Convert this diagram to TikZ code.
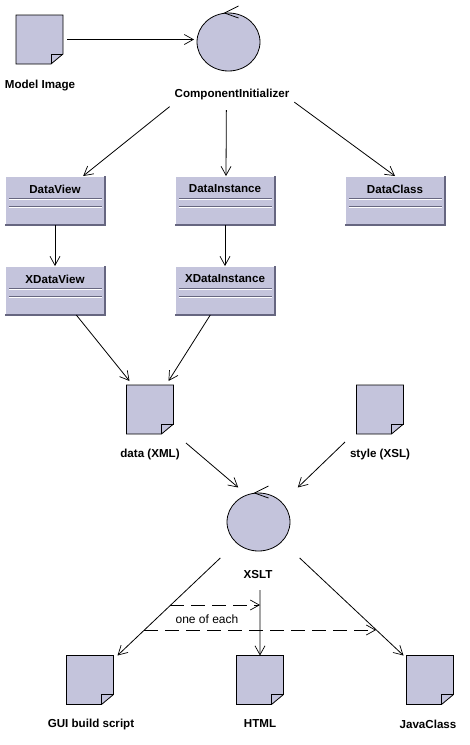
\documentclass[tikz,border=0pt]{standalone}
\usepackage{fontspec}
\setmainfont{Liberation Sans}
\usepackage{tikz}
\usetikzlibrary{arrows.meta,shapes.geometric}

\definecolor{umlfill}{RGB}{196,196,220}
\definecolor{umldark}{RGB}{102,102,128}

\newcommand{\docfile}[3]{
    \node [docbox] (#1) at (#2,#3) {};
    \filldraw [fill=umlfill] (#1.north west) -- (#1.north east) -- ([yshift=10pt]#1.south east)
        -- ([xshift=-12pt]#1.south east) -- (#1.south west) -- cycle;
    \draw ([xshift=-12pt]#1.south east) -- ([shift={(-12pt,10pt)}]#1.south east) -- ([yshift=10pt]#1.south east);
}
\newcommand{\classbox}[4]{
    \node [classframe] (#1) at (#2,#3) {};
    \draw [white] (#1.south west) -- (#1.north west) -- (#1.north east);
    \draw [umldark,line width=1.4pt] (#1.north east) -- (#1.south east) -- (#1.south west);
    \draw [umldark] ([shift={(4pt,-22pt)}]#1.north west) -- ([shift={(-3pt,-22pt)}]#1.north east);
    \draw [white] ([shift={(4pt,-23pt)}]#1.north west) -- ([shift={(-3pt,-23pt)}]#1.north east);
    \draw [umldark] ([shift={(4pt,-30pt)}]#1.north west) -- ([shift={(-3pt,-30pt)}]#1.north east);
    \draw [white] ([shift={(4pt,-31pt)}]#1.north west) -- ([shift={(-3pt,-31pt)}]#1.north east);
    \node [boldtext] (#1name) at ([yshift=-13pt]#1.north) {#4};
}
\newcommand{\control}[3]{
    \node [controlnode] (#1) at (#2,#3) {};
    \draw ([shift={(10pt,7pt)}]#1.north) -- ([xshift=-4pt]#1.north) -- ([shift={(10pt,-5pt)}]#1.north);
}

\begin{document}
\begin{tikzpicture}[x=1pt,y=-1pt,line width=0.8pt,>={Straight Barb[length=9pt,width=10pt,line width=0.7pt]},
        docbox/.style={minimum width=47pt,minimum height=49pt,inner sep=0pt,outer sep=0pt},
        classframe/.style={fill=umlfill,minimum width=100pt,minimum height=49pt,inner sep=0pt,outer sep=0pt},
        controlnode/.style={ellipse,draw,fill=umlfill,minimum width=63pt,minimum height=58pt,inner sep=0pt,outer sep=0pt},
        boldtext/.style={font=\fontsize{11.6pt}{14pt}\selectfont\bfseries,inner ysep=2pt,inner xsep=0pt},
        labeltext/.style={boldtext,minimum height=20pt,inner xsep=5pt,outer sep=0pt},
        dashline/.style={->,dash pattern=on 14pt off 7pt}]
    \useasboundingbox (0,0) rectangle (470,745);

    \docfile{model}{39.5}{39.5}
    \node [boldtext] (modeltext) at (40,85.5) {Model Image};
    \control{init}{228.5}{42}
    \node [labeltext,minimum width=122pt,minimum height=31pt] (inittext) at (232,94.5) {ComponentInitializer};

    \classbox{dv}{55}{200.5}{DataView}
    \classbox{di}{225}{200.5}{DataInstance}
    \classbox{dc}{395}{200.5}{DataClass}
    \classbox{xdv}{55}{290.5}{XDataView}
    \classbox{xdi}{225}{290.5}{XDataInstance}

    \docfile{data}{150}{409.5}
    \node [labeltext,minimum width=72pt,minimum height=22pt] (datatext) at (150,454) {data (XML)};
    \docfile{style}{380}{409.5}
    \node [labeltext,minimum width=70pt,minimum height=24pt] (styletext) at (380,454) {style (XSL)};

    \control{xslt}{258.5}{522}
    \node [labeltext,minimum width=84pt,minimum height=32pt] (xslttext) at (258,574) {XSLT};

    \docfile{gui}{90}{680}
    \node [boldtext] (guitext) at (91,724) {GUI build script};
    \docfile{html}{260}{680}
    \node [boldtext] (htmltext) at (260,724) {HTML};
    \docfile{jclass}{430}{680}
    \node [boldtext] (jclasstext) at (428,724) {JavaClass};

    \draw [->,shorten <=4pt,shorten >=3pt] (model.east) -- (model.east -| init.west);
    \draw [->] (inittext.191) -- (dv.41);
    \draw [->] (inittext.250) -- ([xshift=1pt]di.north);
    \draw [->] (inittext.353) -- (dc.north);
    \draw [->] (dv.south) -- (xdv.north);
    \draw [->] (di.south) -- (xdi.north);
    \draw [->] (xdv.311) -- ([shift={(3pt,4pt)}]data.north west);
    \draw [->] (xdi.239) -- ([shift={(-5pt,4pt)}]data.north east);
    \draw [->] (datatext.north east) -- ([shift={(2pt,14pt)}]xslt.north west);
    \draw [->] (styletext.north west) -- ([shift={(17pt,14pt)}]xslt.north east);
    \draw [->] (xslttext.157) -- ([xshift=4pt]gui.north east);
    \draw [->] (xslttext.277) -- (html.north);
    \draw [->] (xslttext.21) -- ([xshift=-3pt]jclass.north west);

    \coordinate (dashone) at (170,605);
    \coordinate (dashtwo) at (144,630);
    \coordinate (dashend) at (376,630);
    \draw [dashline] (dashone) -- (dashone -| html.north);
    \draw [dashline] (dashtwo) -- (dashend);
    \node [font=\fontsize{12pt}{14pt}\selectfont] (eachtext) at (207,619) {one of each};
\end{tikzpicture}
\end{document}
